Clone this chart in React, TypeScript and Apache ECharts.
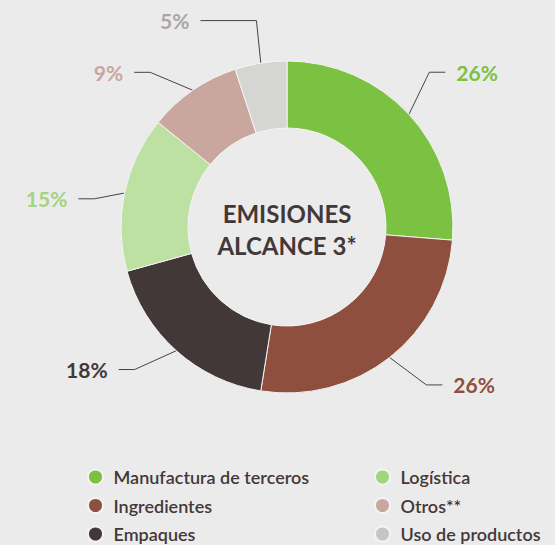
import React, { useEffect, useRef } from "react";
import * as echarts from "echarts";

const categories = [
  "Manufactura de terceros",
  "Ingredientes",
  "Empaques",
  "Logística",
  "Otros**",
  "Uso de productos",
];
const values = [26, 26, 18, 15, 9, 5];
const sliceColors = ["#7bc142", "#8f4f3f", "#433838", "#bde0a3", "#c9a69e", "#d5d5d3"];
const labelColors = ["#7bc142", "#8f4f3f", "#433838", "#a3d47f", "#c9a69e", "#aaa6a6"];
const legendColors = ["#7bc142", "#8f4f3f", "#433838", "#a1d57b", "#c9a69e", "#c8c4c4"];
const legendCol1 = ["Manufactura de terceros", "Ingredientes", "Empaques"];
const legendCol2 = ["Logística", "Otros**", "Uso de productos"];
const centerTitle = "EMISIONES\nALCANCE 3*";
// small nudges of each outside label (and its elbow) away from the default placement
const labelNudge: [number, number][] = [
  [-9, -15],
  [12, -4],
  [-15, -11],
  [9, 14],
  [-20, 15],
  [2, -3],
];

const FONT = "Lato, 'Noto Sans', sans-serif";
const DARK = "#433838";

export default function App() {
  const ref = useRef<HTMLDivElement>(null);
  useEffect(() => {
    if (!ref.current) return;
    const chart = echarts.init(ref.current, null, { renderer: "svg" });
    const legendItem = (name: string) => {
      const i = categories.indexOf(name);
      return { name, itemStyle: { color: legendColors[i] } };
    };
    const legendBase = {
      orient: "vertical" as const,
      icon: "circle",
      itemWidth: 26,
      itemHeight: 15,
      itemGap: 10.5,
      height: 120,
      textStyle: { fontSize: 18, color: DARK, fontWeight: 600, fontFamily: FONT },
      top: 463,
    };
    chart.setOption({
      animation: false,
      backgroundColor: "#ebebeb",
      legend: [
        { ...legendBase, left: 82, data: legendCol1.map(legendItem) },
        { ...legendBase, left: 369, data: legendCol2.map(legendItem) },
      ],
      graphic: [
        {
          type: "text",
          x: 287,
          y: 229,
          style: {
            text: centerTitle,
            textAlign: "center",
            textVerticalAlign: "middle",
            fontSize: 24,
            lineHeight: 32,
            fontWeight: "bold",
            fontFamily: FONT,
            fill: DARK,
          },
        },
      ],
      series: [
        {
          type: "pie",
          center: [287, 227],
          radius: [99, 166],
          startAngle: 90,
          clockwise: true,
          avoidLabelOverlap: false,
          itemStyle: { borderColor: "#f4f4f4", borderWidth: 1 },
          label: {
            show: true,
            position: "outside",
            formatter: "{c}%",
            fontSize: 21,
            fontWeight: "bold",
            fontFamily: FONT,
            distanceToLabelLine: 11,
          },
          labelLine: {
            show: true,
            length: 40,
            length2: 16,
            lineStyle: { color: "#4a4242", width: 1 },
          },
          labelLayout: (params: any) => {
            const [dx, dy] = labelNudge[params.dataIndex] || [0, 0];
            const pts = params.labelLinePoints;
            if (!pts) return { dx, dy };
            return {
              dx,
              dy,
              labelLinePoints: pts.map((p: number[], k: number) =>
                k === 0 ? p : [p[0] + dx, p[1] + dy]
              ),
            };
          },
          emphasis: { disabled: true },
          data: categories.map((name, i) => ({
            name,
            value: values[i],
            itemStyle: { color: sliceColors[i] },
            label: { color: labelColors[i] },
            labelLine: i === 5 ? { length2: 56 } : undefined,
          })),
        },
      ],
    });
    return () => chart.dispose();
  }, []);
  return (
    <div
      ref={ref}
      style={{ position: "absolute", left: 0, top: 0, width: 555, height: 545 }}
    />
  );
}
